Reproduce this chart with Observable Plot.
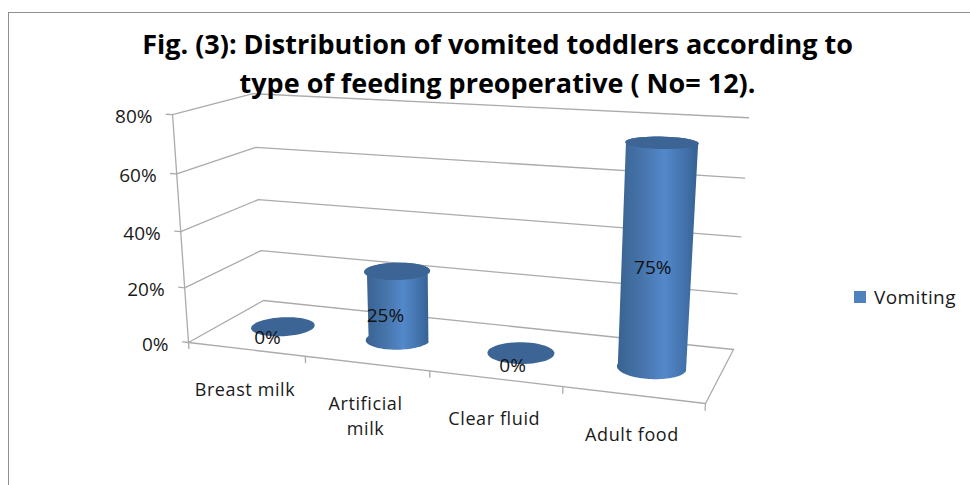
<!DOCTYPE html>
<html>
<head>
<meta charset="utf-8">
<script src="https://cdn.jsdelivr.net/npm/d3@7"></script>
<script src="https://cdn.jsdelivr.net/npm/@observablehq/plot@0.6"></script>
<style>
  html, body { margin: 0; padding: 0; background: #fff; }
  #chart { position: relative; width: 970px; height: 485px; overflow: hidden; }
  #frame { position: absolute; left: 8px; top: 12px; right: -4px; bottom: -4px; border: 1.5px solid #8f8f8f; }
  #legend { position: absolute; left: 854px; top: 285px; display: flex; align-items: center; gap: 8px;
            font: 19px "Open Sans", sans-serif; letter-spacing: 0.4px; color: #1a1a1a; height: 24px; }
  #legend i { display: block; width: 12px; height: 12px; background: #4f81bd; }
  .roomy text { letter-spacing: 0.6px; }
</style>
</head>
<body>
<div id="chart"><div id="frame"></div></div>
<script>
// Chart values
const categories = ["Breast milk", "Artificial\nmilk", "Clear fluid", "Adult food"];
const vomiting = [0, 25, 0, 75];
const valueTicks = [0, 20, 40, 60, 80];
const seriesName = "Vomiting";
const titleText = "Fig. (3): Distribution of vomited toddlers according to\ntype of feeding preoperative ( No= 12).";

const valueMax = 80;
const width = 970, height = 485;

// Perspective camera: s runs along the categories, t into the depth, h up the value axis (all 0..1).
function project(s, t, h) {
  const d = 1 - 0.12474 * s + 0.10743 * t - 0.0534 * h;
  return [
    (188 + 429.06 * s + 103.25 * t - 25.15 * h) / d,
    (342 + 10.73 * s - 9.77 * t - 234 * h) / d
  ];
}
const level = v => v / valueMax;
const slot = i => (i + 0.5) / categories.length;

// Wall grid, axis edges and tick marks as 3D polylines
const path = (id, pts) => pts.map(([s, t, h]) => { const [x, y] = project(s, t, h); return {id, x, y}; });
const frameLines = [
  ...valueTicks.flatMap(v => path("grid" + v, [[0, 0, level(v)], [0, 1, level(v)], [1, 1, level(v)]])),
  ...path("valueAxis", [[0, 0, 0], [0, 0, 1]]),
  ...path("front", [[0, 0, 0], [1, 0, 0], [1, 1, 0]]),
  ...valueTicks.flatMap(v => path("vt" + v, [[0, 0, level(v)], [-0.013, 0, level(v)]])),
  ...d3.range(categories.length + 1).flatMap(i => path("ct" + i, [[i / categories.length, 0, 0], [i / categories.length, 0, -0.028]]))
];

// Cylinders are circles on the floor plane carried up to their value
const radiusS = 0.063, radiusT = 0.21;
const ring = (i, h, from, to) => d3.range(0, 49).map(k => {
  const a = from + (to - from) * k / 48;
  const [x, y] = project(slot(i) + radiusS * Math.cos(a), 0.5 + radiusT * Math.sin(a), h);
  return {x, y, i};
});
const bars = vomiting.map((v, i) => ({i, v}));
const bodies = bars.filter(b => b.v > 0).flatMap(b => [
  ...ring(b.i, 0, Math.PI, 2 * Math.PI),
  ...ring(b.i, level(b.v), 0, Math.PI)
]);
const caps = bars.flatMap(b => ring(b.i, level(b.v), 0, 2 * Math.PI));

// Text anchors
const valueLabels = bars.map(b => {
  const [x, y] = project(slot(b.i) + 0.012, 0.21, level(b.v) / 2);
  return {x, y, text: b.v + "%"};
});
const tickLabels = valueTicks.map(v => {
  const [x, y] = project(0, 0, level(v));
  return {x, y, text: v + "%"};
});
const categoryLabels = categories.map((c, i) => {
  const [x, y] = project(slot(i), 0, 0);
  return {x, y, text: c};
});

const svg = Plot.plot({
  width, height,
  margin: 0,
  x: {domain: [0, width], axis: null},
  y: {domain: [height, 0], axis: null},
  style: {background: "transparent", fontFamily: "'Open Sans', sans-serif", color: "#1a1a1a"},
  marks: [
    Plot.line(frameLines, {x: "x", y: "y", z: "id", stroke: "#ababab", strokeWidth: 1.3, curve: "linear"}),
    Plot.line(bodies, {x: "x", y: "y", z: "i", stroke: "none", fill: "url(#cylinderShade)"}),
    Plot.line(caps, {x: "x", y: "y", z: "i", stroke: "none", fill: "#3c6595"}),
    Plot.text(tickLabels, {x: "x", y: "y", text: "text", textAnchor: "end", dx: -20, dy: 2, fontSize: 19}),
    Plot.text(categoryLabels, {x: "x", y: "y", text: "text", lineAnchor: "top", dx: -1, dy: 28.5, lineHeight: 1.4, fontSize: 18,
                               className: "roomy"}),
    Plot.text(valueLabels, {x: "x", y: "y", text: "text", dy: -2.5, fontSize: 19, fill: "#111"}),
    Plot.text([titleText], {frameAnchor: "top", dx: 12, dy: 26, text: d => d, lineAnchor: "top", lineHeight: 1.43,
                            fontSize: 27, fontWeight: 700, fill: "#000"})
  ]
});

// Horizontal shading that gives the cylinder bodies their round look
const defs = d3.select(svg).insert("defs", ":first-child");
const shade = defs.append("linearGradient").attr("id", "cylinderShade");
[[0, "#386290"], [0.3, "#4674aa"], [0.58, "#5488ca"], [0.85, "#4070a8"], [1, "#34608f"]]
  .forEach(([o, c]) => shade.append("stop").attr("offset", o).attr("stop-color", c));

const chart = document.getElementById("chart");
chart.appendChild(svg);
svg.style.position = "absolute";
svg.style.left = 0;
svg.style.top = 0;

// Series key beside the plot
const legend = document.createElement("div");
legend.id = "legend";
legend.innerHTML = "<i></i><span></span>";
legend.querySelector("span").textContent = seriesName;
chart.appendChild(legend);
</script>
</body>
</html>
